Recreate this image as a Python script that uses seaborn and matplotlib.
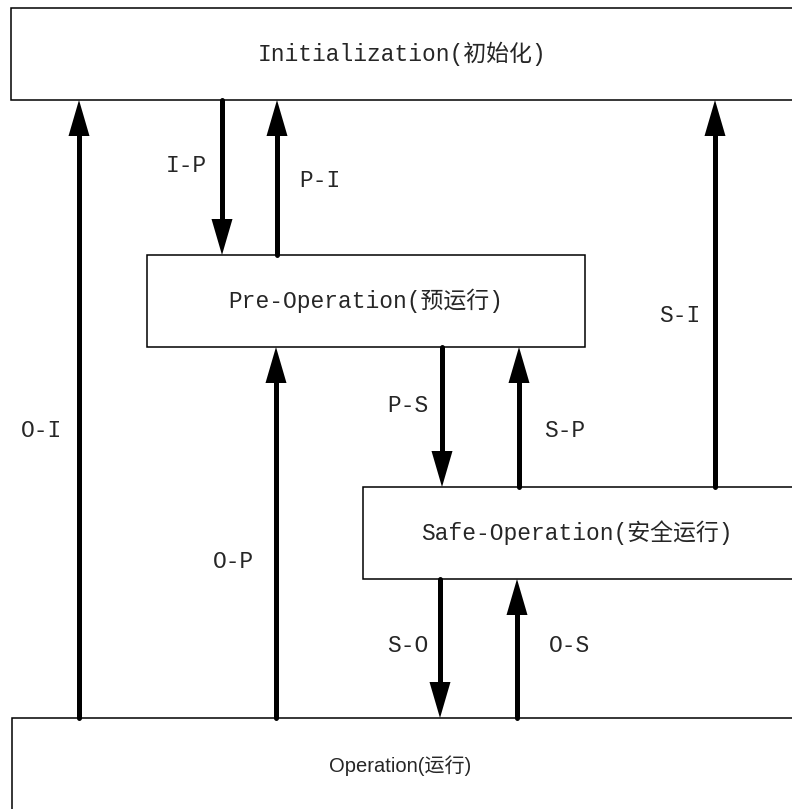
import numpy as np
import pandas as pd
import matplotlib
matplotlib.use("Agg")
import matplotlib.pyplot as plt
import seaborn as sns
from matplotlib.patches import Rectangle

sns.set_theme(style="white")
plt.rcParams['font.family'] = ['Liberation Mono', 'Noto Sans CJK SC', 'DejaVu Sans']

# state boxes (diagram pixel coords, y grows downwards)
state_names = ["Initialization(初始化)", "Pre-Operation(预运行)", "Safe-Operation(安全运行)", "Operation(运行)"]
state_left = [11, 147, 363, 12]
state_top = [8, 255, 487, 718]
state_right = [820, 585, 820, 820]
state_bottom = [100, 347, 579, 840]
state_text_x = [402, 366, 577, 400]
state_text_y = [54, 301, 533, 766]

# transitions
trans_labels = ["I-P", "P-I", "O-I", "O-P", "S-I", "P-S", "S-P", "S-O", "O-S"]
trans_x = [222, 277, 79, 276, 715, 442, 519, 440, 517]
trans_from = [100, 255, 718, 718, 487, 347, 487, 579, 718]
trans_to = [255, 100, 100, 347, 100, 487, 347, 718, 579]
label_x = [186, 320, 42, 233, 680, 408, 565, 408, 570]
label_y = [165, 180, 430, 562, 315, 405, 430, 645, 645]

fig = plt.figure(figsize=(7.92, 8.09), dpi=100)
ax = fig.add_axes([0, 0, 1, 1])
ax.set_xlim(0, 792)
ax.set_ylim(809, 0)
ax.axis("off")

for name, l, t, r, b, tx, ty in zip(state_names, state_left, state_top, state_right,
                                    state_bottom, state_text_x, state_text_y):
    ax.add_patch(Rectangle((l, t), r - l, b - t, facecolor="white", edgecolor="black",
                           lw=1.1, zorder=1))
    if name.startswith("Operation"):
        ax.text(tx, ty, name, ha="center", va="center", fontsize=14.5,
                family=["Liberation Sans", "Noto Sans CJK SC"], zorder=3)
    else:
        ax.text(tx, ty, name, ha="center", va="center", fontsize=16.5, zorder=3)

head_len, head_w = 36, 10.5
shafts = []
for lab, x, y0, y1 in zip(trans_labels, trans_x, trans_from, trans_to):
    d = np.sign(y1 - y0)
    shafts.append({"arrow": lab, "x": x, "y": y0})
    shafts.append({"arrow": lab, "x": x, "y": y1 - d * (head_len - 2)})
    ax.fill([x - head_w, x + head_w, x], [y1 - d * head_len, y1 - d * head_len, y1],
            color="black", lw=0, zorder=4)
shaft_df = pd.DataFrame(shafts)

sns.lineplot(data=shaft_df, x="x", y="y", units="arrow", estimator=None, sort=False,
             color="black", lw=3.6, solid_capstyle="round", ax=ax, zorder=3)
ax.set_xlim(0, 792)
ax.set_ylim(809, 0)
ax.axis("off")

for lab, lx, ly in zip(trans_labels, label_x, label_y):
    ax.text(lx, ly, lab, ha="center", va="center", fontsize=16.5, zorder=3)

fig.savefig("out.png", dpi=100, facecolor="white")
